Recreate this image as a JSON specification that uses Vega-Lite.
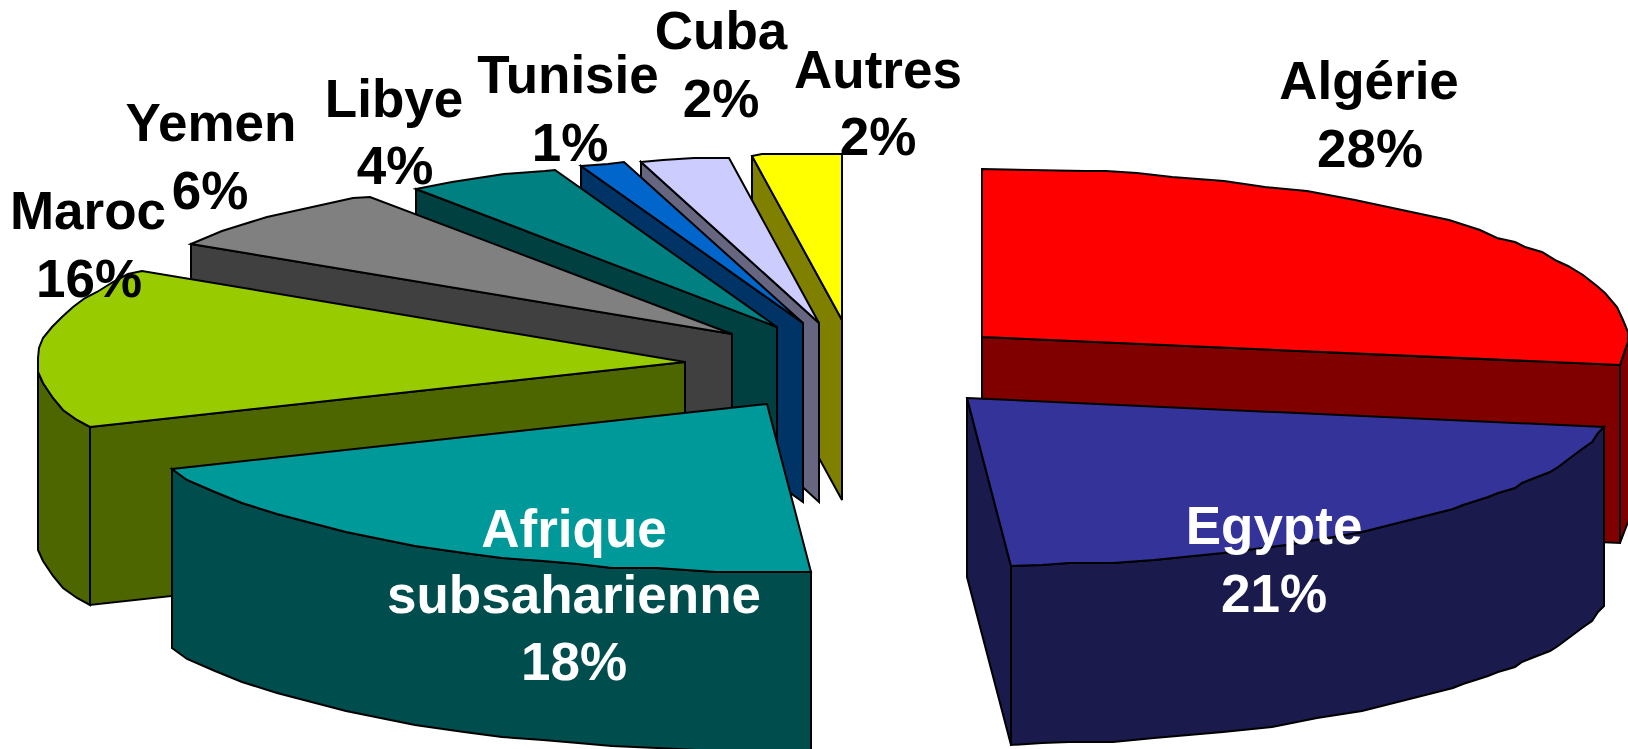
{"$schema":"https://vega.github.io/schema/vega-lite/v6.json","width":1628,"height":749,"padding":0,"autosize":{"type":"fit","contains":"padding"},"background":"white","view":{"stroke":null},
"datasets":{"faces":[
{"face":"Autres side","n":1,"x":752,"y":156},{"face":"Autres side","n":2,"x":842,"y":320},{"face":"Autres side","n":3,"x":842,"y":500},{"face":"Autres side","n":4,"x":752,"y":336},
{"face":"Autres top","n":1,"x":752,"y":156},{"face":"Autres top","n":2,"x":762,"y":154},{"face":"Autres top","n":3,"x":842,"y":154},{"face":"Autres top","n":4,"x":842,"y":320},
{"face":"Cuba side","n":1,"x":641,"y":162},{"face":"Cuba side","n":2,"x":819,"y":323},{"face":"Cuba side","n":3,"x":819,"y":502},{"face":"Cuba side","n":4,"x":641,"y":340},
{"face":"Cuba top","n":1,"x":641,"y":162},{"face":"Cuba top","n":2,"x":663,"y":160},{"face":"Cuba top","n":3,"x":694,"y":158},{"face":"Cuba top","n":4,"x":729,"y":158},{"face":"Cuba top","n":5,"x":819,"y":323},
{"face":"Tunisie side","n":1,"x":581,"y":166},{"face":"Tunisie side","n":2,"x":803,"y":323},{"face":"Tunisie side","n":3,"x":803,"y":502},{"face":"Tunisie side","n":4,"x":581,"y":344},
{"face":"Tunisie top","n":1,"x":581,"y":166},{"face":"Tunisie top","n":2,"x":608,"y":164},{"face":"Tunisie top","n":3,"x":624,"y":162},{"face":"Tunisie top","n":4,"x":803,"y":323},
{"face":"Libye side","n":1,"x":416,"y":189},{"face":"Libye side","n":2,"x":777,"y":327},{"face":"Libye side","n":3,"x":777,"y":505},{"face":"Libye side","n":4,"x":416,"y":367},
{"face":"Libye top","n":1,"x":416,"y":189},{"face":"Libye top","n":2,"x":452,"y":182},{"face":"Libye top","n":3,"x":504,"y":174},{"face":"Libye top","n":4,"x":545,"y":171},{"face":"Libye top","n":5,"x":555,"y":170},{"face":"Libye top","n":6,"x":777,"y":327},
{"face":"Yemen side","n":1,"x":191,"y":244},{"face":"Yemen side","n":2,"x":732,"y":334},{"face":"Yemen side","n":3,"x":732,"y":512},{"face":"Yemen side","n":4,"x":191,"y":422},
{"face":"Yemen top","n":1,"x":191,"y":244},{"face":"Yemen top","n":2,"x":222,"y":231},{"face":"Yemen top","n":3,"x":267,"y":217},{"face":"Yemen top","n":4,"x":353,"y":198},{"face":"Yemen top","n":5,"x":370,"y":197},{"face":"Yemen top","n":6,"x":732,"y":334},
{"face":"Maroc side","n":1,"x":90,"y":427},{"face":"Maroc side","n":2,"x":685,"y":362},{"face":"Maroc side","n":3,"x":685,"y":540},{"face":"Maroc side","n":4,"x":90,"y":605},
{"face":"Maroc rim","n":1,"x":38,"y":358},{"face":"Maroc rim","n":2,"x":38,"y":372},{"face":"Maroc rim","n":3,"x":43,"y":383},{"face":"Maroc rim","n":4,"x":53,"y":398},{"face":"Maroc rim","n":5,"x":63,"y":410},{"face":"Maroc rim","n":6,"x":77,"y":420},{"face":"Maroc rim","n":7,"x":90,"y":427},{"face":"Maroc rim","n":8,"x":90,"y":605},{"face":"Maroc rim","n":9,"x":77,"y":598},{"face":"Maroc rim","n":10,"x":63,"y":588},{"face":"Maroc rim","n":11,"x":53,"y":576},{"face":"Maroc rim","n":12,"x":43,"y":561},{"face":"Maroc rim","n":13,"x":38,"y":550},
{"face":"Maroc top","n":1,"x":142,"y":271},{"face":"Maroc top","n":2,"x":128,"y":274},{"face":"Maroc top","n":3,"x":113,"y":282},{"face":"Maroc top","n":4,"x":97,"y":292},{"face":"Maroc top","n":5,"x":85,"y":298},{"face":"Maroc top","n":6,"x":73,"y":307},{"face":"Maroc top","n":7,"x":62,"y":317},{"face":"Maroc top","n":8,"x":52,"y":327},{"face":"Maroc top","n":9,"x":43,"y":338},{"face":"Maroc top","n":10,"x":39,"y":348},{"face":"Maroc top","n":11,"x":38,"y":358},{"face":"Maroc top","n":12,"x":38,"y":372},{"face":"Maroc top","n":13,"x":43,"y":383},{"face":"Maroc top","n":14,"x":53,"y":398},{"face":"Maroc top","n":15,"x":63,"y":410},{"face":"Maroc top","n":16,"x":77,"y":420},{"face":"Maroc top","n":17,"x":90,"y":427},{"face":"Maroc top","n":18,"x":685,"y":362},
{"face":"Afrique side","n":1,"x":172,"y":469},{"face":"Afrique side","n":2,"x":187,"y":480},{"face":"Afrique side","n":3,"x":215,"y":492},{"face":"Afrique side","n":4,"x":242,"y":503},{"face":"Afrique side","n":5,"x":277,"y":514},{"face":"Afrique side","n":6,"x":346,"y":532},{"face":"Afrique side","n":7,"x":415,"y":546},{"face":"Afrique side","n":8,"x":464,"y":553},{"face":"Afrique side","n":9,"x":502,"y":558},{"face":"Afrique side","n":10,"x":543,"y":561},{"face":"Afrique side","n":11,"x":578,"y":564},{"face":"Afrique side","n":12,"x":612,"y":568},{"face":"Afrique side","n":13,"x":657,"y":568},{"face":"Afrique side","n":14,"x":716,"y":572},{"face":"Afrique side","n":15,"x":811,"y":572},{"face":"Afrique side","n":16,"x":811,"y":751},{"face":"Afrique side","n":17,"x":716,"y":751},{"face":"Afrique side","n":18,"x":657,"y":748},{"face":"Afrique side","n":19,"x":612,"y":746},{"face":"Afrique side","n":20,"x":578,"y":743},{"face":"Afrique side","n":21,"x":543,"y":740},{"face":"Afrique side","n":22,"x":502,"y":737},{"face":"Afrique side","n":23,"x":464,"y":732},{"face":"Afrique side","n":24,"x":415,"y":725},{"face":"Afrique side","n":25,"x":346,"y":711},{"face":"Afrique side","n":26,"x":277,"y":693},{"face":"Afrique side","n":27,"x":242,"y":682},{"face":"Afrique side","n":28,"x":215,"y":671},{"face":"Afrique side","n":29,"x":187,"y":659},{"face":"Afrique side","n":30,"x":172,"y":648},
{"face":"Afrique top","n":1,"x":172,"y":469},{"face":"Afrique top","n":2,"x":187,"y":480},{"face":"Afrique top","n":3,"x":215,"y":492},{"face":"Afrique top","n":4,"x":242,"y":503},{"face":"Afrique top","n":5,"x":277,"y":514},{"face":"Afrique top","n":6,"x":346,"y":532},{"face":"Afrique top","n":7,"x":415,"y":546},{"face":"Afrique top","n":8,"x":464,"y":553},{"face":"Afrique top","n":9,"x":502,"y":558},{"face":"Afrique top","n":10,"x":543,"y":561},{"face":"Afrique top","n":11,"x":578,"y":564},{"face":"Afrique top","n":12,"x":612,"y":568},{"face":"Afrique top","n":13,"x":657,"y":568},{"face":"Afrique top","n":14,"x":716,"y":572},{"face":"Afrique top","n":15,"x":811,"y":572},{"face":"Afrique top","n":16,"x":767,"y":404},
{"face":"Algérie side","n":1,"x":982,"y":337},{"face":"Algérie side","n":2,"x":1620,"y":365},{"face":"Algérie side","n":3,"x":1620,"y":543},{"face":"Algérie side","n":4,"x":982,"y":515},
{"face":"Algérie rim","n":1,"x":1620,"y":365},{"face":"Algérie rim","n":2,"x":1625,"y":350},{"face":"Algérie rim","n":3,"x":1632,"y":333},{"face":"Algérie rim","n":4,"x":1632,"y":512},{"face":"Algérie rim","n":5,"x":1628,"y":522},{"face":"Algérie rim","n":6,"x":1620,"y":543},
{"face":"Algérie top","n":1,"x":982,"y":169},{"face":"Algérie top","n":2,"x":1085,"y":171},{"face":"Algérie top","n":3,"x":1106,"y":171},{"face":"Algérie top","n":4,"x":1137,"y":173},{"face":"Algérie top","n":5,"x":1172,"y":177},{"face":"Algérie top","n":6,"x":1224,"y":181},{"face":"Algérie top","n":7,"x":1265,"y":187},{"face":"Algérie top","n":8,"x":1307,"y":191},{"face":"Algérie top","n":9,"x":1355,"y":200},{"face":"Algérie top","n":10,"x":1449,"y":220},{"face":"Algérie top","n":11,"x":1480,"y":230},{"face":"Algérie top","n":12,"x":1497,"y":238},{"face":"Algérie top","n":13,"x":1515,"y":242},{"face":"Algérie top","n":14,"x":1525,"y":247},{"face":"Algérie top","n":15,"x":1542,"y":252},{"face":"Algérie top","n":16,"x":1557,"y":261},{"face":"Algérie top","n":17,"x":1568,"y":266},{"face":"Algérie top","n":18,"x":1583,"y":275},{"face":"Algérie top","n":19,"x":1597,"y":286},{"face":"Algérie top","n":20,"x":1605,"y":293},{"face":"Algérie top","n":21,"x":1617,"y":307},{"face":"Algérie top","n":22,"x":1623,"y":320},{"face":"Algérie top","n":23,"x":1628,"y":332},{"face":"Algérie top","n":24,"x":1628,"y":342},{"face":"Algérie top","n":25,"x":1625,"y":350},{"face":"Algérie top","n":26,"x":1620,"y":365},{"face":"Algérie top","n":27,"x":982,"y":337},
{"face":"Egypte rim","n":1,"x":967,"y":398},{"face":"Egypte rim","n":2,"x":1011,"y":566},{"face":"Egypte rim","n":3,"x":1011,"y":745},{"face":"Egypte rim","n":4,"x":967,"y":577},
{"face":"Egypte side","n":1,"x":1604,"y":427},{"face":"Egypte side","n":2,"x":1598,"y":433},{"face":"Egypte side","n":3,"x":1592,"y":442},{"face":"Egypte side","n":4,"x":1582,"y":449},{"face":"Egypte side","n":5,"x":1570,"y":458},{"face":"Egypte side","n":6,"x":1558,"y":467},{"face":"Egypte side","n":7,"x":1550,"y":472},{"face":"Egypte side","n":8,"x":1537,"y":477},{"face":"Egypte side","n":9,"x":1522,"y":483},{"face":"Egypte side","n":10,"x":1515,"y":488},{"face":"Egypte side","n":11,"x":1498,"y":493},{"face":"Egypte side","n":12,"x":1488,"y":497},{"face":"Egypte side","n":13,"x":1463,"y":505},{"face":"Egypte side","n":14,"x":1453,"y":509},{"face":"Egypte side","n":15,"x":1362,"y":532},{"face":"Egypte side","n":16,"x":1286,"y":545},{"face":"Egypte side","n":17,"x":1223,"y":553},{"face":"Egypte side","n":18,"x":1154,"y":560},{"face":"Egypte side","n":19,"x":1113,"y":563},{"face":"Egypte side","n":20,"x":1069,"y":563},{"face":"Egypte side","n":21,"x":1042,"y":565},{"face":"Egypte side","n":22,"x":1011,"y":566},{"face":"Egypte side","n":23,"x":1011,"y":745},{"face":"Egypte side","n":24,"x":1042,"y":743},{"face":"Egypte side","n":25,"x":1069,"y":742},{"face":"Egypte side","n":26,"x":1113,"y":742},{"face":"Egypte side","n":27,"x":1154,"y":738},{"face":"Egypte side","n":28,"x":1223,"y":732},{"face":"Egypte side","n":29,"x":1272,"y":727},{"face":"Egypte side","n":30,"x":1317,"y":718},{"face":"Egypte side","n":31,"x":1362,"y":711},{"face":"Egypte side","n":32,"x":1453,"y":688},{"face":"Egypte side","n":33,"x":1463,"y":684},{"face":"Egypte side","n":34,"x":1488,"y":676},{"face":"Egypte side","n":35,"x":1498,"y":672},{"face":"Egypte side","n":36,"x":1515,"y":667},{"face":"Egypte side","n":37,"x":1522,"y":662},{"face":"Egypte side","n":38,"x":1537,"y":656},{"face":"Egypte side","n":39,"x":1550,"y":651},{"face":"Egypte side","n":40,"x":1558,"y":646},{"face":"Egypte side","n":41,"x":1570,"y":637},{"face":"Egypte side","n":42,"x":1582,"y":628},{"face":"Egypte side","n":43,"x":1592,"y":621},{"face":"Egypte side","n":44,"x":1598,"y":612},{"face":"Egypte side","n":45,"x":1604,"y":606},
{"face":"Egypte top","n":1,"x":967,"y":398},{"face":"Egypte top","n":2,"x":1604,"y":427},{"face":"Egypte top","n":3,"x":1598,"y":433},{"face":"Egypte top","n":4,"x":1592,"y":442},{"face":"Egypte top","n":5,"x":1582,"y":449},{"face":"Egypte top","n":6,"x":1570,"y":458},{"face":"Egypte top","n":7,"x":1558,"y":467},{"face":"Egypte top","n":8,"x":1550,"y":472},{"face":"Egypte top","n":9,"x":1537,"y":477},{"face":"Egypte top","n":10,"x":1522,"y":483},{"face":"Egypte top","n":11,"x":1515,"y":488},{"face":"Egypte top","n":12,"x":1498,"y":493},{"face":"Egypte top","n":13,"x":1488,"y":497},{"face":"Egypte top","n":14,"x":1463,"y":505},{"face":"Egypte top","n":15,"x":1453,"y":509},{"face":"Egypte top","n":16,"x":1362,"y":532},{"face":"Egypte top","n":17,"x":1286,"y":545},{"face":"Egypte top","n":18,"x":1223,"y":553},{"face":"Egypte top","n":19,"x":1154,"y":560},{"face":"Egypte top","n":20,"x":1113,"y":563},{"face":"Egypte top","n":21,"x":1069,"y":563},{"face":"Egypte top","n":22,"x":1042,"y":565},{"face":"Egypte top","n":23,"x":1011,"y":566}
],
"labels":[
{"label":"Algérie","colour":"outside","x":1369,"y":99},{"label":"28%","colour":"outside","x":1370,"y":167},
{"label":"Egypte","colour":"inside","x":1274,"y":544},{"label":"21%","colour":"inside","x":1274,"y":612},
{"label":"Afrique","colour":"inside","x":574,"y":547},{"label":"subsaharienne","colour":"inside","x":574,"y":613},{"label":"18%","colour":"inside","x":574,"y":680},
{"label":"Maroc","colour":"outside","x":88,"y":229},{"label":"16%","colour":"outside","x":89,"y":297},
{"label":"Yemen","colour":"outside","x":211,"y":141},{"label":"6%","colour":"outside","x":210,"y":209},
{"label":"Libye","colour":"outside","x":394,"y":117},{"label":"4%","colour":"outside","x":395,"y":184},
{"label":"Tunisie","colour":"outside","x":568,"y":93},{"label":"1%","colour":"outside","x":570,"y":161},
{"label":"Cuba","colour":"outside","x":721,"y":49},{"label":"2%","colour":"outside","x":721,"y":117},
{"label":"Autres","colour":"outside","x":878,"y":88},{"label":"2%","colour":"outside","x":878,"y":155}
]},
"layer":[
{"data":{"name":"faces"},
"mark":{"type":"line","interpolate":"linear-closed","stroke":"black","strokeWidth":2,"clip":true},
"encoding":{
"x":{"field":"x","type":"quantitative","scale":{"domain":[0,1628],"nice":false,"zero":false},"axis":null},
"y":{"field":"y","type":"quantitative","scale":{"domain":[749,0],"nice":false,"zero":false},"axis":null},
"order":{"field":"n","type":"quantitative"},
"fill":{"field":"face","type":"nominal","legend":null,"sort":null,"scale":{
"domain":["Autres side","Autres top","Cuba side","Cuba top","Tunisie side","Tunisie top","Libye side","Libye top","Yemen side","Yemen top","Maroc side","Maroc rim","Maroc top","Afrique side","Afrique top","Algérie side","Algérie rim","Algérie top","Egypte rim","Egypte side","Egypte top"],
"range":["#808000","#FFFF00","#666680","#CCCCFF","#003366","#0066CC","#004040","#008080","#404040","#808080","#4D6600","#4D6600","#99CC00","#004D4D","#009999","#800000","#800000","#FF0000","#1A1A4D","#1A1A4D","#333399"]}}
}},
{"data":{"name":"labels"},
"mark":{"type":"text","font":"Liberation Sans","fontWeight":"bold","fontSize":53,"align":"center","baseline":"alphabetic"},
"encoding":{
"x":{"field":"x","type":"quantitative","scale":{"domain":[0,1628],"nice":false,"zero":false},"axis":null},
"y":{"field":"y","type":"quantitative","scale":{"domain":[749,0],"nice":false,"zero":false},"axis":null},
"text":{"field":"label","type":"nominal"},
"color":{"field":"colour","type":"nominal","legend":null,"scale":{"domain":["outside","inside"],"range":["#000000","#FFFFFF"]}}
}}
]}
